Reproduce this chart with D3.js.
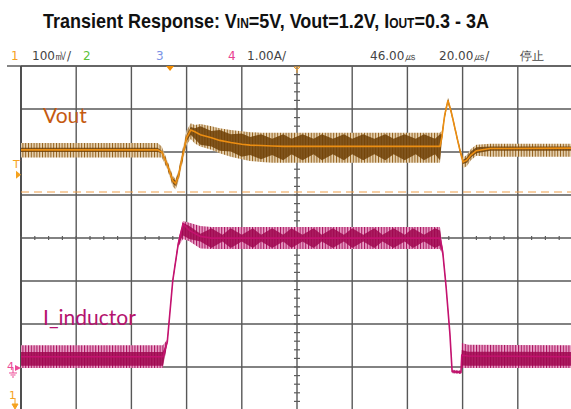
<!DOCTYPE html>
<html>
<head>
<meta charset="utf-8">
<script src="https://cdn.jsdelivr.net/npm/d3@7"></script>
<style>
  body { margin: 0; background: #fff; }
  svg { display: block; font-family: "DejaVu Sans", sans-serif; }
</style>
</head>
<body>
<div id="chart"></div>
<script>
// time base in us, 0 = screen centre (20us/div, 10 div)
// ch1 Vout: deviation from 1.2V in mV (100mV/div)
var vTime = [-100, -50.5, -49, -47, -45, -44, -43, -41.5, -40, -38.5, -37,
  -35, -31, -28, -24, -20, -17, -13, -9, -5, -2, 2, 6, 9, 13, 17, 20, 24, 28, 32, 35, 39, 43, 46, 50,
  51.8, 52.5, 53.5, 54.7, 56, 58, 59, 60.2, 61.5, 63, 65, 70, 100];
var vMid = [0, 0, -5, -35, -72, -78, -62, -15, 28, 46, 42,
  35, 28, 22, 17, 13, 11, 10, 9, 8, 8, 8, 8, 8, 8, 8, 8, 8, 8, 8, 8, 8, 8, 8, 8,
  8, 30, 80, 115, 85, 28, 0, -28, -24, -12, -2, 3, 4];
var vHi = [16, 16, 8, -25, -60, -68, -50, 0, 45, 62, 58,
  60, 55, 50, 46, 43, 41, 40, 40, 40, 40, 40, 40, 40, 40, 40, 40, 40, 40, 40, 40, 40, 40, 40, 40,
  40, 45, 88, 122, 92, 35, 8, -18, -12, 2, 12, 14, 14];
var vLo = [-18, -18, -18, -45, -85, -92, -75, -30, 12, 25, 15,
  8, 0, -8, -16, -22, -26, -28, -30, -30, -30, -30, -30, -30, -30, -30, -30, -30, -30, -30, -30, -30, -30, -30, -30,
  -30, 18, 72, 108, 78, 21, -8, -42, -38, -24, -14, -16, -16];
var vInHi = [5, 5, -2, -30, -66, -72, -55, -8, 35, 53, 50,
  55, 44, 46, 36, 38, 30, 36, 26, 36, 26, 36, 26, 36, 26, 36, 26, 36, 26, 36, 26, 36, 26, 36, 26,
  36, 36, 84, 118, 88, 31, 4, -23, -18, -4, 6, 8, 8];
var vInLo = [-5, -5, -8, -40, -78, -84, -68, -22, 20, 35, 25,
  12, 8, -2, -4, -16, -12, -22, -12, -24, -10, -24, -10, -24, -10, -24, -10, -24, -10, -24, -10, -24, -10, -24, -10,
  -24, 24, 76, 112, 82, 25, -4, -33, -30, -18, -8, -2, -2];

// ch4 inductor current in A (1A/div)
var iTime = [-100, -48.6, -47, -45, -43, -41.3, -39, -35,
  -31, -27, -24, -20, -16, -13, -9, -5, -2, 2, 6, 9, 13, 17, 20, 24, 28, 31, 35, 39, 42, 46, 50,
  51.8, 52.8, 54, 55.4, 56.2, 59.4, 59.7, 62, 100];
var iMid = [0.26, 0.26, 0.6, 2.04, 2.9, 3.35, 3.2, 3.06,
  3.02, 3.02, 3.02, 3.02, 3.02, 3.02, 3.02, 3.02, 3.02, 3.02, 3.02, 3.02, 3.02, 3.02, 3.02, 3.02, 3.02, 3.02, 3.02, 3.02, 3.02, 3.02, 3.02,
  3.02, 2.7, 1.9, 0.8, -0.08, -0.1, 0.3, 0.28, 0.26];
var iHi = [0.53, 0.53, 0.66, 2.1, 2.98, 3.42, 3.38, 3.3,
  3.28, 3.28, 3.28, 3.28, 3.28, 3.28, 3.28, 3.28, 3.28, 3.28, 3.28, 3.28, 3.28, 3.28, 3.28, 3.28, 3.28, 3.28, 3.28, 3.28, 3.28, 3.28, 3.28,
  3.28, 2.78, 1.96, 0.86, -0.04, -0.06, 0.58, 0.54, 0.53];
var iLo = [0, 0, 0.54, 1.98, 2.82, 3.0, 2.95, 2.78,
  2.77, 2.77, 2.77, 2.77, 2.77, 2.77, 2.77, 2.77, 2.77, 2.77, 2.77, 2.77, 2.77, 2.77, 2.77, 2.77, 2.77, 2.77, 2.77, 2.77, 2.77, 2.77, 2.77,
  2.77, 2.62, 1.84, 0.74, -0.12, -0.14, 0, 0, 0];
var iInHi = [0.37, 0.37, 0.62, 2.06, 2.94, 3.38, 3.3, 3.12,
  3.25, 3.1, 3.25, 3.1, 3.25, 3.1, 3.25, 3.1, 3.25, 3.1, 3.25, 3.1, 3.25, 3.1, 3.25, 3.1, 3.25, 3.1, 3.25, 3.1, 3.25, 3.1, 3.25,
  3.2, 2.74, 1.92, 0.82, -0.06, -0.08, 0.42, 0.38, 0.37];
var iInLo = [0.05, 0.05, 0.58, 2.02, 2.86, 3.08, 3.0, 2.94,
  2.79, 2.94, 2.79, 2.94, 2.79, 2.94, 2.79, 2.94, 2.79, 2.94, 2.79, 2.94, 2.79, 2.94, 2.79, 2.94, 2.79, 2.94, 2.79, 2.94, 2.79, 2.94, 2.79,
  2.85, 2.66, 1.88, 0.78, -0.10, -0.12, 0.06, 0.05, 0.05];

var triggerDelay = 46;      // us
var vTrigLevel = -58;       // mV
var vCursor = -98;          // mV, dashed line
var hdrItems = [
  {text: "1", x: 11, color: "#f5a21f"},
  {text: "100㎷/", x: 32, color: "#444"},
  {text: "2", x: 83, color: "#5cc23a"},
  {text: "3", x: 156, color: "#7b93e6"},
  {text: "4", x: 228, color: "#e8418f"},
  {text: "1.00A/", x: 247, color: "#444"},
  {text: "46.00㎲", x: 370, color: "#444"},
  {text: "20.00㎲/", x: 439, color: "#444"},
  {text: "停止", x: 520, color: "#444"}
];

var width = 571, height = 409;
var svg = d3.select("#chart").append("svg")
    .attr("width", width)
    .attr("height", height);

var x = d3.scaleLinear().domain([-100, 100]).range([21, 573]);
var gy = d3.scaleLinear().domain([-4, 4]).range([410, 66]);
var yV = d3.scaleLinear().domain([-605, 195]).range([410, 66]);
var yI = d3.scaleLinear().domain([-0.977, 7.023]).range([410, 66]);

//title, squeezed horizontally to look like the narrow bold face of the original
var titleG = svg.append("g");
var title = titleG.append("text")
    .attr("x", 0).attr("y", 0)
    .style("font-family", "'Liberation Sans', Arial, sans-serif")
    .style("font-weight", "bold")
    .style("font-size", "21px")
    .style("fill", "#111");
title.append("tspan").text("Transient Response: V");
title.append("tspan").style("font-size", "14px").text("IN");
title.append("tspan").text("=5V, Vout=1.2V, I");
title.append("tspan").style("font-size", "14px").text("OUT");
title.append("tspan").text("=0.3 - 3A");
var titleW = title.node().getComputedTextLength();
titleG.attr("transform", `translate(43,28) scale(${446 / titleW},1)`);

//header row
svg.selectAll("text.hdr")
    .data(hdrItems)
    .enter()
    .append("text")
    .classed("hdr", true)
    .attr("x", d => d.x)
    .attr("y", 60)
    .style("font-size", "12px")
    .style("fill", d => d.color)
    .text(d => d.text);

//patterns for the sampled ripple
var defs = svg.append("defs");
function stripes(id, bg, fg, w) {
    let p = defs.append("pattern")
        .attr("id", id)
        .attr("patternUnits", "userSpaceOnUse")
        .attr("width", 2.8).attr("height", 10);
    p.append("rect").attr("width", 2.8).attr("height", 10).attr("fill", bg);
    p.append("rect").attr("width", w).attr("height", 10).attr("fill", fg);
}
stripes("vStripe", "#e6d2b2", "#93601c", 1);
stripes("iStripe", "#eba6cb", "#a8135e", 1.1);
defs.append("clipPath").attr("id", "plotClip")
    .append("rect").attr("x", 21).attr("y", 66).attr("width", 552).attr("height", 344);

//grid
var grid = svg.append("g");
grid.selectAll("line.vg")
    .data(x.ticks(10))
    .enter().append("line")
    .attr("x1", d => x(d)).attr("x2", d => x(d))
    .attr("y1", 66).attr("y2", height)
    .style("stroke", "#585858").style("stroke-width", 1.4);
grid.selectAll("line.hg")
    .data(gy.ticks(8))
    .enter().append("line")
    .attr("x1", 21).attr("x2", width)
    .attr("y1", d => gy(d)).attr("y2", d => gy(d))
    .style("stroke", "#585858").style("stroke-width", 1.4);
grid.append("line")
    .attr("x1", 7).attr("x2", width).attr("y1", 66).attr("y2", 66)
    .style("stroke", "#5c5c5c").style("stroke-width", 1.5);
grid.append("line")
    .attr("x1", 21).attr("x2", 21).attr("y1", 66).attr("y2", height)
    .style("stroke", "#4a4a4a").style("stroke-width", 1.8);
//minor ticks on the centre cross
grid.selectAll("line.mx")
    .data(d3.range(-100, 100.1, 5))
    .enter().append("line")
    .attr("x1", d => x(d)).attr("x2", d => x(d))
    .attr("y1", gy(0) - 2).attr("y2", gy(0) + 2)
    .style("stroke", "#5c5c5c").style("stroke-width", 1.2);
grid.selectAll("line.my")
    .data(d3.range(-4, 4.01, 0.2))
    .enter().append("line")
    .attr("x1", x(0) - 3).attr("x2", x(0) + 3)
    .attr("y1", d => gy(d)).attr("y2", d => gy(d))
    .style("stroke", "#5c5c5c").style("stroke-width", 1.2);

//cursor line
svg.append("line")
    .attr("x1", 21).attr("x2", width)
    .attr("y1", yV(vCursor)).attr("y2", yV(vCursor))
    .style("stroke", "#f0a04a").style("stroke-width", 1.2)
    .style("stroke-dasharray", "8,5");

function drawTrace(t, mid, hi, lo, inHi, inLo, y, pat, dark, bright) {
    let g = svg.append("g").attr("clip-path", "url(#plotClip)");
    let idx = d3.range(t.length);
    let outer = d3.area().x(i => x(t[i])).y0(i => y(lo[i])).y1(i => y(hi[i]));
    let inner = d3.area().x(i => x(t[i])).y0(i => y(inLo[i])).y1(i => y(inHi[i]));
    let line = d3.line().x(i => x(t[i])).y(i => y(mid[i]));
    g.append("path").datum(idx).attr("d", outer).style("fill", "url(#" + pat + ")");
    g.append("path").datum(idx).attr("d", inner).style("fill", dark).style("fill-opacity", 0.85);
    g.append("path").datum(idx).attr("d", line)
        .style("fill", "none").style("stroke", bright).style("stroke-width", 1.6);
}
drawTrace(vTime, vMid, vHi, vLo, vInHi, vInLo, yV, "vStripe", "#6e3f05", "#ec8e12");
drawTrace(iTime, iMid, iHi, iLo, iInHi, iInLo, yI, "iStripe", "#a0064f", "#c4126f");

//trace labels
svg.append("text").attr("x", 43).attr("y", 123)
    .style("font-family", "Lato, 'Open Sans', sans-serif")
    .style("font-size", "21px").style("fill", "#c55a11").text("Vout");
svg.append("text").attr("x", 43).attr("y", 325)
    .style("font-family", "Lato, 'Open Sans', sans-serif")
    .style("font-size", "21px").style("fill", "#b5136f").text("I_inductor");

//markers
var tx = x(-triggerDelay);
svg.append("path")
    .attr("d", `M${tx - 4},66 L${tx + 4},66 L${tx},71 Z`)
    .style("fill", "#f28c00");
svg.append("path")
    .attr("d", `M${x(0) - 3},67 L${x(0) + 3},67 L${x(0)},70 Z M${x(0)},70 L${x(0)},73`)
    .style("fill", "none").style("stroke", "#f0a030").style("stroke-width", 1);
var ty = yV(vTrigLevel);
svg.append("text").attr("x", 13).attr("y", ty - 7)
    .style("font-size", "11px").style("fill", "#f5a21f").text("T");
svg.append("path")
    .attr("d", `M16,${ty - 4} L21,${ty} L16,${ty + 4} Z`)
    .style("fill", "#f5a21f");
var gi = yI(0);
svg.append("text").attr("x", 7).attr("y", gi + 2)
    .style("font-size", "11px").style("fill", "#ec4a96").text("4");
svg.append("path")
    .attr("d", `M15,${gi - 3} L21,${gi} L15,${gi + 3} Z`)
    .style("fill", "#ec4a96");
svg.append("path")
    .attr("d", `M13,${gi} L13,${gi + 5} M9,${gi + 5} L17,${gi + 5} M10.5,${gi + 7} L15.5,${gi + 7} M12,${gi + 9} L14,${gi + 9}`)
    .style("stroke", "#ec4a96").style("stroke-width", 1);
svg.append("text").attr("x", 9).attr("y", 399)
    .style("font-size", "11px").style("fill", "#f5a21f").text("1");
svg.append("path")
    .attr("d", "M15,398 L15,404 M12,404 L18,404 L15,409 Z")
    .style("stroke", "#f5a21f").style("fill", "#f5a21f").style("stroke-width", 1);
</script>
</body>
</html>
